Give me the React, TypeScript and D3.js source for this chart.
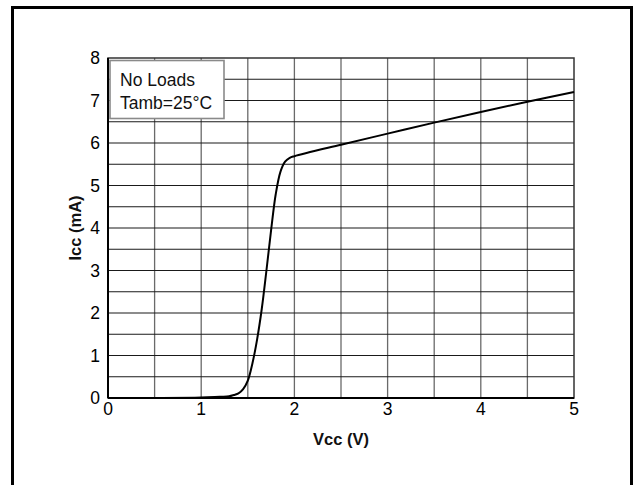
import React from "react";
import * as d3 from "d3";

const vcc: number[] = [0, 0.5, 1.0, 1.2, 1.3, 1.35, 1.4, 1.45, 1.5, 1.55, 1.6, 1.65, 1.7, 1.75, 1.8, 1.85, 1.9, 1.95, 2.0, 2.5, 3.0, 3.5, 4.0, 4.5, 5.0];
const icc: number[] = [0, 0, 0.01, 0.03, 0.04, 0.07, 0.11, 0.21, 0.41, 0.82, 1.38, 2.1, 3.0, 3.95, 4.8, 5.32, 5.56, 5.65, 5.69, 5.96, 6.22, 6.48, 6.73, 6.97, 7.2];
const xTicks: number[] = [0, 1, 2, 3, 4, 5];
const yTicks: number[] = [0, 1, 2, 3, 4, 5, 6, 7, 8];
const xGrid: number[] = d3.range(0.5, 5, 0.5);
const yGrid: number[] = d3.range(0.5, 8, 0.5);
const legendLines: string[] = ["No Loads", "Tamb=25°C"];
const xTitle = "Vcc (V)";
const yTitle = "Icc (mA)";

export default function App() {
  const W = 633, H = 485;
  const left = 108, right = 574, top = 58, bottom = 398;
  const x = d3.scaleLinear().domain([0, 5]).range([left, right]);
  const y = d3.scaleLinear().domain([0, 8]).range([bottom, top]);
  const pts: [number, number][] = vcc.map((v, i) => [v, icc[i]]);
  const line = d3.line<[number, number]>().x(d => x(d[0])).y(d => y(d[1])).curve(d3.curveCatmullRom.alpha(0.5));
  const font = "'Liberation Sans', Arial, Helvetica, sans-serif";
  return (
    <svg width={W} height={H} style={{ position: "absolute", left: 0, top: 0, background: "#fff" }} fontFamily={font}>
      <rect x={0} y={0} width={W} height={H} fill="#fff" />
      <path d={`M12.5,${H} L12.5,7.5 L631.5,7.5 L631.5,${H}`} fill="none" stroke="#000" strokeWidth={3} />
      {xGrid.map(g => (
        <line key={"vx" + g} x1={x(g)} x2={x(g)} y1={top} y2={bottom} stroke="#6a6a6a" strokeWidth={1.3} />
      ))}
      {yGrid.map(g => (
        <line key={"hy" + g} x1={left} x2={right} y1={y(g)} y2={y(g)} stroke="#1a1a1a" strokeWidth={1.1} />
      ))}
      <rect x={left} y={top} width={right - left} height={bottom - top} fill="none" stroke="#333" strokeWidth={1.5} />
      <line x1={left} x2={left} y1={top} y2={bottom} stroke="#000" strokeWidth={2} />
      <line x1={left} x2={right} y1={bottom} y2={bottom} stroke="#000" strokeWidth={2} />
      <path d={line(pts) || ""} fill="none" stroke="#000" strokeWidth={2} />
      <rect x={110} y={60.5} width={114} height={58} fill="#fff" stroke="#8a8a8a" strokeWidth={1.6} />
      {legendLines.map((t, i) => (
        <text key={t} x={120} y={86 + i * 23} fontSize={17.5} fill="#111">{t}</text>
      ))}
      {xTicks.map(t => (
        <text key={"xt" + t} x={x(t)} y={415} fontSize={17.5} textAnchor="middle" fill="#000">{t}</text>
      ))}
      {yTicks.map(t => (
        <text key={"yt" + t} x={100} y={y(t) + 6} fontSize={17.5} textAnchor="end" fill="#000">{t}</text>
      ))}
      <text x={(left + right) / 2} y={445} fontSize={16.5} fontWeight="bold" textAnchor="middle" fill="#111">{xTitle}</text>
      <text transform={`translate(81,${(top + bottom) / 2}) rotate(-90)`} fontSize={16.5} fontWeight="bold" textAnchor="middle" fill="#111">{yTitle}</text>
    </svg>
  );
}
